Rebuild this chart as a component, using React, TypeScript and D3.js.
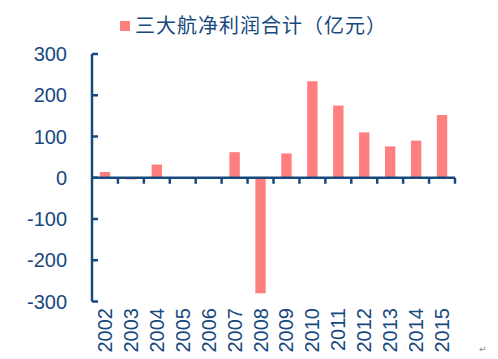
import React, { useEffect, useRef } from "react";
import * as d3 from "d3";

const years = ["2002", "2003", "2004", "2005", "2006", "2007", "2008", "2009", "2010", "2011", "2012", "2013", "2014", "2015"];
const profits = [14, -4, 32, 0, 0, 62, -280, 59, 234, 175, 110, 76, 90, 152];
const yTicks = [-300, -200, -100, 0, 100, 200, 300];
const legendLabel = "三大航净利润合计（亿元）";

const width = 498;
const height = 359;
const margin = { top: 54, right: 43, bottom: 58, left: 92 };
const axisColor = "#17497f";
const barColor = "#ff7f7f";

export default function App() {
  const svgRef = useRef<SVGSVGElement>(null);

  useEffect(() => {
    const svg = d3.select(svgRef.current);
    svg.selectAll("*").remove();

    const x = d3
      .scaleBand()
      .domain(years)
      .range([margin.left, width - margin.right])
      .paddingInner(0.6)
      .paddingOuter(0.3);

    const y = d3
      .scaleLinear()
      .domain([-300, 300])
      .range([height - margin.bottom + 0.5, margin.top]);

    // bars
    svg
      .append("g")
      .selectAll("rect")
      .data(profits)
      .enter()
      .append("rect")
      .attr("x", (d, i) => x(years[i]) as number)
      .attr("y", (d) => Math.min(y(d), y(0)))
      .attr("width", x.bandwidth())
      .attr("height", (d) => Math.abs(y(d) - y(0)))
      .attr("fill", barColor);

    // y axis
    const yAxis = svg.append("g").attr("transform", `translate(${margin.left}, 0)`);
    yAxis
      .append("line")
      .attr("x1", 0)
      .attr("x2", 0)
      .attr("y1", y(300))
      .attr("y2", y(-300))
      .attr("stroke", axisColor)
      .attr("stroke-width", 2.5);
    yAxis
      .selectAll("line.tick")
      .data(yTicks)
      .enter()
      .append("line")
      .attr("class", "tick")
      .attr("x1", 0)
      .attr("x2", 6)
      .attr("y1", (d) => y(d))
      .attr("y2", (d) => y(d))
      .attr("stroke", axisColor)
      .attr("stroke-width", 2.5);
    yAxis
      .selectAll("text")
      .data(yTicks)
      .enter()
      .append("text")
      .attr("x", -25)
      .attr("y", (d) => y(d))
      .attr("dy", "0.36em")
      .attr("text-anchor", "end")
      .attr("fill", axisColor)
      .attr("font-family", "'Liberation Sans', Arial, sans-serif")
      .attr("font-size", 20)
      .text((d) => d);

    // x axis at zero
    const step = x.step();
    const xAxis = svg.append("g").attr("transform", `translate(0, ${y(0)})`);
    xAxis
      .append("line")
      .attr("x1", margin.left)
      .attr("x2", width - margin.right)
      .attr("stroke", axisColor)
      .attr("stroke-width", 2.5);
    const bounds = d3.range(years.length + 1).map((i) => margin.left + i * step);
    xAxis
      .selectAll("line.tick")
      .data(bounds.slice(1))
      .enter()
      .append("line")
      .attr("class", "tick")
      .attr("x1", (d) => d)
      .attr("x2", (d) => d)
      .attr("y1", 0)
      .attr("y2", 6)
      .attr("stroke", axisColor)
      .attr("stroke-width", 2.5);

    // year labels, rotated
    svg
      .append("g")
      .selectAll("text")
      .data(years)
      .enter()
      .append("text")
      .attr("transform", (d) => `translate(${(x(d) as number) + x.bandwidth() / 2 + 7}, 308) rotate(-90)`)
      .attr("text-anchor", "end")
      .attr("fill", axisColor)
      .attr("font-family", "'Liberation Sans', Arial, sans-serif")
      .attr("font-size", 20)
      .text((d) => d);

    // legend
    const legend = svg.append("g");
    legend
      .append("rect")
      .attr("x", 120)
      .attr("y", 21)
      .attr("width", 10)
      .attr("height", 10)
      .attr("fill", barColor);
    legend
      .append("text")
      .attr("x", 135)
      .attr("y", 33)
      .attr("fill", axisColor)
      .attr("font-family", "'Noto Sans CJK SC', sans-serif")
      .attr("font-size", 20)
      .attr("letter-spacing", 1)
      .text(legendLabel);

    svg
      .append("text")
      .attr("x", 479)
      .attr("y", 352)
      .attr("fill", "#888")
      .attr("font-family", "'DejaVu Sans', sans-serif")
      .attr("font-size", 9)
      .text("↵");
  }, []);

  return (
    <svg
      ref={svgRef}
      width={width}
      height={height}
      style={{ position: "absolute", left: 0, top: 0, background: "#fff" }}
    />
  );
}
